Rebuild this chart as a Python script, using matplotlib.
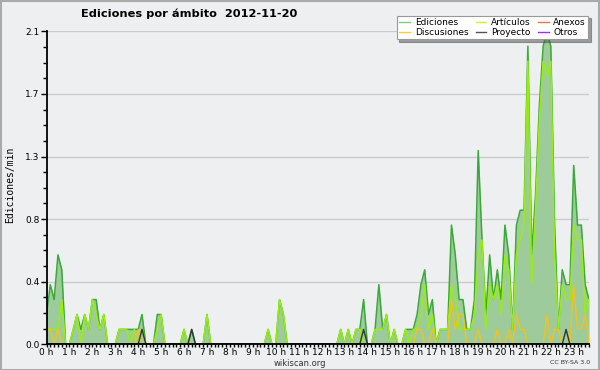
import matplotlib
matplotlib.use('Agg')
import matplotlib.pyplot as plt
import numpy as np

# 10-minute samples from 00:00 to 23:40 (143 points), edits per minute
ediciones = [0.2,0.4,0.3,0.6,0.5,0,0,0.1,0.2,0.1,0.2,0.1,0.3,0.3,0.1,0.2,0,0,0,0.1,
             0.1,0.1,0.1,0.1,0.1,0.2,0,0,0,0.2,0.2,0,0,0,0,0,0.1,0,0.1,0,
             0,0,0.2,0,0,0,0,0,0,0,0,0,0,0,0,0,0,0,0.1,0,
             0,0.3,0.2,0,0,0,0,0,0,0,0,0,0,0,0,0,0,0.1,0,0.1,
             0,0.1,0.1,0.3,0,0,0.1,0.4,0.1,0.2,0,0.1,0,0,0.1,0.1,0.1,0.2,0.4,0.5,
             0.2,0.3,0,0.1,0.1,0.1,0.8,0.6,0.3,0.3,0.1,0.1,0.3,1.3,0.7,0.2,0.6,0.3,0.5,0.3,
             0.8,0.6,0.1,0.8,0.9,0.9,2.0,0.6,1.0,1.6,2.0,2.1,2.0,0.8,0.1,0.5,0.4,0.4,1.2,0.8,
             0.8,0.4,0.3]
articulos = [0.1,0.1,0.1,0.1,0.3,0,0,0.1,0.2,0,0.2,0.1,0.3,0.2,0.1,0.2,0,0,0,0.1,
             0.1,0.1,0,0.1,0,0.1,0,0,0,0.1,0.2,0,0,0,0,0,0.1,0,0,0,
             0,0,0.2,0,0,0,0,0,0,0,0,0,0,0,0,0,0,0,0.1,0,
             0,0.3,0.2,0,0,0,0,0,0,0,0,0,0,0,0,0,0,0.1,0,0.1,
             0,0.1,0.1,0,0,0,0.1,0.1,0.1,0.2,0,0.1,0,0,0.1,0,0.1,0.1,0.2,0.4,
             0.1,0.2,0,0.1,0.1,0.1,0.4,0.3,0.1,0.1,0.1,0.1,0.2,0.6,0.7,0.1,0.4,0.3,0.4,0.2,
             0.6,0.5,0.1,0.6,0.7,0.8,1.9,0.4,0.9,1.5,1.9,1.8,1.9,0.6,0.1,0.4,0.3,0.3,0.8,0.7,
             0.7,0.2,0.3]
discusiones = [0.1,0.1,0,0.1,0,0,0,0,0,0,0,0,0,0,0,0,0,0,0,0,
               0,0,0,0,0.1,0,0,0,0,0,0,0,0,0,0,0,0,0,0,0,
               0,0,0,0,0,0,0,0,0,0,0,0,0,0,0,0,0,0,0,0,
               0,0,0,0,0,0,0,0,0,0,0,0,0,0,0,0,0,0,0,0,
               0,0,0,0,0,0,0,0,0,0,0,0,0,0,0,0,0,0.1,0.1,0,
               0,0.1,0,0,0,0,0.3,0.1,0.2,0.2,0,0,0,0.1,0,0,0,0,0.1,0,
               0,0.1,0,0.2,0.1,0.1,0,0,0,0,0,0.2,0,0.1,0.1,0,0,0,0.4,0.1,
               0.1,0.2,0]
proyecto = [0]*143
for k in (25, 38, 83, 136):
    proyecto[k] = 0.1
anexos = [0]*143
otros = [0]*143

hours = list(range(24))
hour_labels = ['%d h' % h for h in hours]
yticks = [0, 0.42, 0.84, 1.26, 1.68, 2.1]
ytick_labels = ['0.0', '0.4', '0.8', '1.3', '1.7', '2.1']

x = np.arange(len(ediciones)) / 6.0

bg = '#eeeff1'
fig = plt.figure(figsize=(6, 3.7), dpi=100, facecolor=bg)
ax = fig.add_axes([46.5/600, 25.7/370, 542.5/600, 313/370], facecolor=bg)

ax.fill_between(x, 0, ediciones, color='#9ecb9b', lw=0, zorder=1)
ax.plot(x, anexos, color='#ee7744', lw=0.8, zorder=1)
ax.plot(x, otros, color='#9933ee', lw=0.8, zorder=1)
ax.plot(x, ediciones, color='#3aa83a', lw=1.1, zorder=3)
ax.plot(x, articulos, color='#99ee11', lw=1.1, zorder=4)
ax.plot(x, discusiones, color='#f2c21c', lw=1.0, zorder=5)
ax.plot(x, proyecto, color='#333333', lw=1.0, zorder=6)

ax.set_xlim(0, x[-1])
ax.set_ylim(0, 2.1)
ax.set_yticks(yticks)
ax.set_yticklabels(ytick_labels)
ax.set_yticks(np.arange(0, 2.1, 0.105), minor=True)
ax.set_xticks(hours)
ax.set_xticklabels(hour_labels)
ax.set_xticks(np.arange(0, x[-1] + 0.01, 1/6), minor=True)
ax.grid(axis='y', color='#cccccc', lw=1, zorder=0)
ax.set_axisbelow(True)

for s in ('top', 'right'):
    ax.spines[s].set_visible(False)
for s in ('left', 'bottom'):
    ax.spines[s].set_linewidth(1.3)
    ax.spines[s].set_zorder(7)
ax.tick_params(axis='both', which='both', direction='out', length=3, width=1,
               labelsize=6.5, pad=1, colors='black')
ax.tick_params(axis='y', which='major', length=4)
ax.tick_params(axis='x', which='both', length=2.5, pad=0)

fig.text(189/600, 1 - 14/370, 'Ediciones por ámbito  2012-11-20', ha='center', va='center',
         fontsize=8.2, fontweight='bold')
fig.text(10/600, 1 - 185/370, 'Ediciones/min', rotation=90, ha='center', va='center',
         fontsize=7, family='DejaVu Sans Mono')
fig.text(300/600, 1 - 363/370, 'wikiscan.org', ha='center', va='center', fontsize=6,
         color='#333333')
fig.text(590/600, 1 - 363/370, 'CC BY-SA 3.0', ha='right', va='center', fontsize=4.5,
         color='#333333')

handles = [plt.Line2D([], [], color='#77cc77', lw=1),
           plt.Line2D([], [], color='#ffcc33', lw=1),
           plt.Line2D([], [], color='#ccee33', lw=1),
           plt.Line2D([], [], color='#555555', lw=1),
           plt.Line2D([], [], color='#ee7744', lw=1),
           plt.Line2D([], [], color='#9933ee', lw=1)]
names = ['Ediciones', 'Discusiones', 'Artículos', 'Proyecto', 'Anexos', 'Otros']
leg = fig.legend(handles, names, ncol=3, loc='upper right',
                 bbox_to_anchor=(593/600, 1 - 11/370), fontsize=6.5, frameon=True,
                 fancybox=False, shadow=True, borderpad=0.3, labelspacing=0.05,
                 handlelength=1.2, handletextpad=0.5, columnspacing=0.8)
leg.get_frame().set_edgecolor('#999999')
leg.get_frame().set_linewidth(0.8)
leg.set_zorder(10)

fig.patches.append(plt.Rectangle((0.001, 0.001), 0.998, 0.997, transform=fig.transFigure,
                                 fill=False, edgecolor='#aaaaaa', lw=1.5))

fig.savefig('out.png', dpi=100, facecolor=bg)
